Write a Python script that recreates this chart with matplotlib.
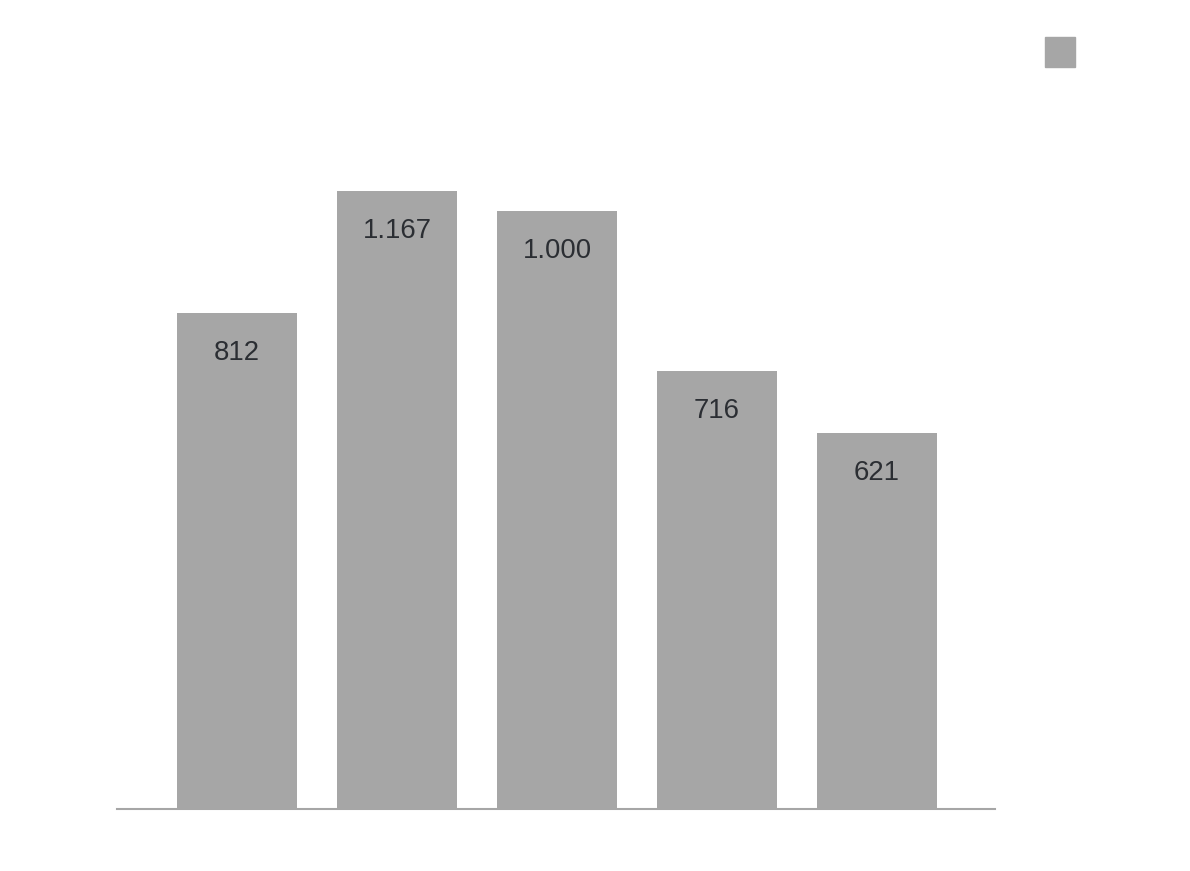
import matplotlib.pyplot as plt
from matplotlib.patches import Rectangle

# bar heights as drawn, and the labels printed on them
heights = [812, 1012, 979, 717, 616]
labels = ["812", "1.167", "1.000", "716", "621"]
positions = [0, 1, 2, 3, 4]

BAR_COLOR = "#a6a6a6"
TEXT_COLOR = "#2b2e33"

fig = plt.figure(figsize=(11.9, 8.71), dpi=100)
W, H = 1190, 871
# axes from x=117..995 px, y=100..809 px
ax = fig.add_axes([117 / W, (H - 809) / H, (995 - 117) / W, (809 - 100) / H])

bars = ax.bar(positions, heights, width=0.75, color=BAR_COLOR)
ax.set_xlim(-0.75, 4.7375)
ax.set_ylim(0, (809 - 100) / (496 / 812))

for rect, lab in zip(bars, labels):
    ax.annotate(lab, (rect.get_x() + rect.get_width() / 2, rect.get_height()),
                xytext=(0, -29), textcoords="offset points",
                ha="center", va="center", fontsize=19.8, color=TEXT_COLOR,
                family=["Liberation Sans", "DejaVu Sans"])

for s in ["top", "right", "left"]:
    ax.spines[s].set_visible(False)
ax.spines["bottom"].set_color(BAR_COLOR)
ax.spines["bottom"].set_linewidth(1.5)
ax.set_xticks([])
ax.set_yticks([])

# legend swatch, no label
fig.patches.append(Rectangle((1045 / W, (H - 67) / H), 30 / W, 30 / H,
                             transform=fig.transFigure, color=BAR_COLOR))

fig.savefig("out.png", dpi=100)
